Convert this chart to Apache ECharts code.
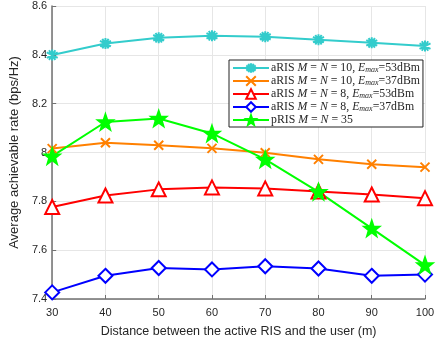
<!DOCTYPE html>
<html><head><meta charset="utf-8">
<script src="https://cdn.jsdelivr.net/npm/echarts@6/dist/echarts.min.js"></script>
<style>html,body{margin:0;padding:0;background:#fff}#c{width:438px;height:343px}</style>
</head><body><div id="c"></div>
<script>
const distances = [30, 40, 50, 60, 70, 80, 90, 100];
const aris10_53 = [8.399, 8.446, 8.470, 8.478, 8.474, 8.462, 8.449, 8.436];
const aris10_37 = [8.016, 8.040, 8.030, 8.017, 7.999, 7.972, 7.952, 7.940];
const aris8_53 = [7.777, 7.824, 7.849, 7.857, 7.853, 7.840, 7.828, 7.813];
const aris8_37 = [7.427, 7.495, 7.527, 7.521, 7.534, 7.525, 7.495, 7.500];
const pris35 = [7.985, 8.125, 8.139, 8.078, 7.972, 7.839, 7.689, 7.539];
const yTicks = [7.4, 7.6, 7.8, 8, 8.2, 8.4, 8.6];

const names = ['s1','s2','s3','s4','s5'];
const legendText = {
  s1: '{r|aRIS }{i|M}{r| = }{i|N}{r| = 10, }{i|E}{s|max}{r|=53dBm}',
  s2: '{r|aRIS }{i|M}{r| = }{i|N}{r| = 10, }{i|E}{s|max}{r|=37dBm}',
  s3: '{r|aRIS }{i|M}{r| = }{i|N}{r| = 8, }{i|E}{s|max}{r|=53dBm}',
  s4: '{r|aRIS }{i|M}{r| = }{i|N}{r| = 8, }{i|E}{s|max}{r|=37dBm}',
  s5: '{r|pRIS }{i|M}{r| = }{i|N}{r| = 35}'
};
const asterisk = 'path://M0,-10L0,10M-8.66,-5L8.66,5M-8.66,5L8.66,-5M-5,-8.66L5,8.66M-5,8.66L5,-8.66';
const cross = 'path://M-10,-10L10,10M-10,10L10,-10';
const star = 'path://M0,-10L2.35,-3.24L9.51,-3.09L3.8,1.24L5.88,8.09L0,4L-5.88,8.09L-3.8,1.24L-9.51,-3.09L-2.35,-3.24Z';

function mk(name, data, color, symbol, size) {
  return {
    name: name, type: 'line',
    data: distances.map((d, i) => [d, data[i]]),
    symbol: symbol, symbolSize: size,
    lineStyle: {color: color, width: 2},
    itemStyle: {color: color, borderColor: color, borderWidth: 2},
    emphasis: {disabled: true}
  };
}

const chart = echarts.init(document.getElementById('c'));
chart.setOption({
  animation: false,
  grid: {left: 52, right: 13, top: 6, bottom: 44},
  xAxis: {
    type: 'value', min: 30, max: 100, interval: 10,
    name: 'Distance between the active RIS and the user (m)',
    nameLocation: 'middle', nameGap: 26,
    nameTextStyle: {fontFamily: 'Liberation Sans', fontSize: 12.5, color: '#262626'},
    axisLine: {lineStyle: {color: '#707070', width: 1.5}},
    axisTick: {inside: true, length: 4, lineStyle: {color: '#707070'}},
    axisLabel: {fontFamily: 'Liberation Sans', fontSize: 11, color: '#262626', margin: 8},
    splitLine: {show: true, lineStyle: {color: '#e6e6e6', width: 1}}
  },
  yAxis: {
    type: 'value', min: 7.4, max: 8.6, interval: 0.2,
    name: 'Average achievable rate (bps/Hz)',
    nameLocation: 'middle', nameGap: 23,
    nameTextStyle: {fontFamily: 'Liberation Sans', fontSize: 13, color: '#262626'},
    axisLine: {show: true, lineStyle: {color: '#707070', width: 1.5}},
    axisTick: {show: true, inside: true, length: 4, lineStyle: {color: '#707070'}},
    axisLabel: {fontFamily: 'Liberation Sans', fontSize: 11, color: '#262626', margin: 5,
      formatter: v => String(Math.round(v * 10) / 10)},
    splitLine: {show: true, lineStyle: {color: '#e6e6e6', width: 1}}
  },
  legend: {
    orient: 'vertical', left: 229, top: 60,
    padding: [2, 3, 1, 3], itemGap: 1, itemWidth: 36, itemHeight: 12,
    backgroundColor: '#fff', borderColor: '#222', borderWidth: 1, borderRadius: 0,
    data: names,
    formatter: n => legendText[n],
    textStyle: {
      fontFamily: 'Liberation Serif', fontSize: 11.8, color: '#262626', padding: [0,0,0,-3],
      rich: {
        r: {fontFamily: 'Liberation Serif', fontSize: 11.8, color: '#262626'},
        i: {fontFamily: 'Liberation Serif', fontStyle: 'italic', fontSize: 11.8, color: '#262626'},
        s: {fontFamily: 'Liberation Serif', fontStyle: 'italic', fontSize: 8, color: '#262626', padding: [4, 0, 0, 0]}
      }
    }
  },
  series: [
    mk('s1', aris10_53, '#33CCCC', asterisk, 11),
    mk('s2', aris10_37, '#FF8000', cross, 9),
    mk('s3', aris8_53, '#FF0000', 'emptyTriangle', 14),
    mk('s4', aris8_37, '#0000FF', 'emptyDiamond', 14),
    mk('s5', pris35, '#00FF00', star, 15)
  ]
});
</script></body></html>
